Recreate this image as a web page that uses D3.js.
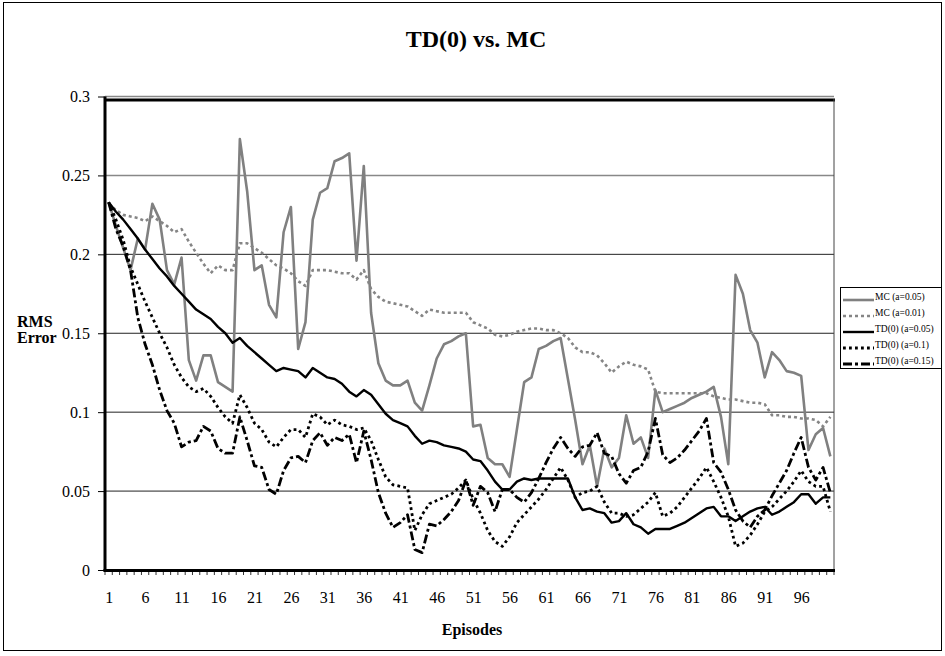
<!DOCTYPE html>
<html>
<head>
<meta charset="utf-8">
<script src="https://cdn.jsdelivr.net/npm/d3@7"></script>
<style>
html,body{margin:0;padding:0;background:#fff;}
svg{display:block;}
text{font-family:"Liberation Serif","Times New Roman",serif;fill:#000;}
</style>
</head>
<body>
<svg id="chart" width="945" height="656"></svg>
<script>
// ---------- data ----------
const episodes = d3.range(1, 101);

const mc005 = [
0.233,0.218,0.204,0.190,0.210,0.203,0.232,0.222,0.190,0.181,
0.198,0.133,0.120,0.136,0.136,0.119,0.116,0.113,0.273,0.240,
0.190,0.193,0.168,0.160,0.214,0.230,0.140,0.157,0.222,0.239,
0.242,0.259,0.261,0.264,0.196,0.256,0.163,0.131,0.120,0.117,
0.117,0.120,0.106,0.101,0.117,0.134,0.143,0.145,0.148,0.150,
0.091,0.092,0.071,0.067,0.067,0.059,0.089,0.119,0.122,0.140,
0.142,0.145,0.147,0.121,0.095,0.067,0.079,0.053,0.077,0.065,
0.071,0.098,0.080,0.084,0.071,0.114,0.100,0.102,0.104,0.106,
0.109,0.111,0.113,0.116,0.097,0.067,0.187,0.175,0.152,0.144,
0.122,0.138,0.133,0.126,0.125,0.123,0.076,0.086,0.090,0.072];

const mc001 = [
0.232,0.228,0.225,0.224,0.223,0.221,0.224,0.221,0.218,0.214,
0.216,0.208,0.201,0.194,0.188,0.193,0.190,0.190,0.207,0.207,
0.204,0.201,0.197,0.193,0.191,0.188,0.183,0.180,0.190,0.190,
0.190,0.189,0.188,0.188,0.184,0.190,0.178,0.173,0.170,0.169,
0.168,0.167,0.164,0.161,0.165,0.164,0.163,0.163,0.163,0.163,
0.157,0.155,0.153,0.149,0.148,0.149,0.151,0.152,0.153,0.153,
0.152,0.152,0.150,0.147,0.141,0.138,0.138,0.136,0.131,0.125,
0.129,0.132,0.130,0.129,0.127,0.113,0.112,0.112,0.112,0.112,
0.112,0.112,0.112,0.110,0.109,0.108,0.108,0.107,0.106,0.106,
0.105,0.098,0.098,0.097,0.097,0.096,0.096,0.095,0.091,0.097];

const td005 = [
0.233,0.227,0.222,0.216,0.210,0.203,0.197,0.191,0.186,0.180,
0.175,0.170,0.165,0.162,0.159,0.154,0.150,0.144,0.147,0.142,
0.138,0.134,0.130,0.126,0.128,0.127,0.126,0.122,0.128,0.125,
0.122,0.121,0.118,0.113,0.110,0.114,0.111,0.105,0.099,0.095,
0.093,0.091,0.085,0.080,0.082,0.081,0.079,0.078,0.077,0.075,
0.070,0.069,0.063,0.056,0.051,0.051,0.056,0.058,0.057,0.058,
0.058,0.058,0.058,0.058,0.046,0.038,0.039,0.037,0.036,0.030,
0.031,0.036,0.029,0.027,0.023,0.026,0.026,0.026,0.028,0.030,
0.033,0.036,0.039,0.040,0.034,0.034,0.031,0.034,0.037,0.039,
0.040,0.035,0.037,0.040,0.043,0.048,0.048,0.042,0.046,0.046];

const td01 = [
0.233,0.222,0.209,0.192,0.181,0.170,0.160,0.150,0.141,0.130,
0.122,0.116,0.113,0.115,0.110,0.103,0.097,0.093,0.111,0.103,
0.093,0.089,0.081,0.078,0.084,0.089,0.089,0.084,0.099,0.097,
0.092,0.095,0.092,0.091,0.089,0.090,0.082,0.070,0.059,0.054,
0.053,0.052,0.025,0.035,0.042,0.044,0.046,0.048,0.052,0.057,
0.045,0.036,0.025,0.018,0.015,0.021,0.030,0.035,0.040,0.045,
0.051,0.058,0.065,0.057,0.046,0.049,0.050,0.053,0.043,0.036,
0.036,0.034,0.035,0.039,0.043,0.049,0.034,0.036,0.040,0.046,
0.052,0.058,0.065,0.056,0.046,0.034,0.015,0.017,0.022,0.029,
0.037,0.040,0.045,0.050,0.056,0.063,0.056,0.053,0.053,0.037];

const td015 = [
0.233,0.216,0.205,0.190,0.160,0.143,0.130,0.114,0.101,0.093,
0.078,0.081,0.082,0.091,0.088,0.077,0.074,0.074,0.097,0.082,
0.066,0.065,0.051,0.048,0.063,0.071,0.072,0.068,0.082,0.087,
0.079,0.084,0.082,0.086,0.068,0.088,0.070,0.049,0.036,0.027,
0.030,0.035,0.013,0.011,0.029,0.028,0.032,0.037,0.044,0.057,
0.041,0.053,0.049,0.037,0.051,0.051,0.046,0.043,0.049,0.058,
0.068,0.077,0.084,0.077,0.072,0.078,0.079,0.087,0.074,0.072,
0.061,0.055,0.063,0.065,0.075,0.096,0.073,0.068,0.071,0.076,
0.082,0.088,0.096,0.068,0.062,0.051,0.038,0.031,0.027,0.034,
0.038,0.047,0.055,0.063,0.074,0.084,0.065,0.057,0.065,0.049];

const seriesNames = ["MC (a=0.05)", "MC (a=0.01)", "TD(0) (a=0.05)", "TD(0) (a=0.1)", "TD(0) (a=0.15)"];
const seriesValues = [mc005, mc001, td005, td01, td015];
const yTickValues = [0, 0.05, 0.1, 0.15, 0.2, 0.25, 0.3];
const yTickLabels = ["0", "0.05", "0.1", "0.15", "0.2", "0.25", "0.3"];
const xTickLabels = [1, 6, 11, 16, 21, 26, 31, 36, 41, 46, 51, 56, 61, 66, 71, 76, 81, 86, 91, 96];
const titleText = "TD(0) vs. MC";
const xTitle = "Episodes";
const yTitle = ["RMS", "Error"];

// ---------- styles ----------
const styles = [
  {stroke: "#808080", width: 2.6, dash: null},
  {stroke: "#858585", width: 2.6, dash: "3,3"},
  {stroke: "#000", width: 2.4, dash: null},
  {stroke: "#000", width: 2.8, dash: "2.8,3.2"},
  {stroke: "#000", width: 2.8, dash: "9,3,3,3"}
];

const svg = d3.select("#chart");

// outer border
svg.append("rect").attr("x", 3.5).attr("y", 2.5).attr("width", 938).attr("height", 648)
  .attr("fill", "#fff").attr("stroke", "#000").attr("stroke-width", 1);

const pLeft = 105, pRight = 834, pTop = 96.5, pBottom = 570;
const x = d3.scalePoint().domain(episodes).range([pLeft, pRight]).padding(0.5);
const y = d3.scaleLinear().domain([0, 0.3]).range([pBottom, pTop]);

// gridlines
svg.append("g").selectAll("line").data(yTickValues.filter(v => v > 0)).join("line")
  .attr("x1", pLeft).attr("x2", pRight)
  .attr("y1", d => y(d)).attr("y2", d => y(d))
  .attr("stroke", d => d >= 0.25 ? "#888" : "#222").attr("stroke-width", d => d >= 0.25 ? 1.5 : 1);

// plot frame
svg.append("line").attr("x1", pLeft).attr("x2", pRight + 1).attr("y1", 100).attr("y2", 100)
  .attr("stroke", "#000").attr("stroke-width", 3);
svg.append("line").attr("x1", pRight).attr("x2", pRight).attr("y1", 99).attr("y2", pBottom)
  .attr("stroke", "#444").attr("stroke-width", 1);

// y axis
const yAxis = d3.axisLeft(y).tickValues(yTickValues)
  .tickFormat((d, i) => yTickLabels[i]).tickSize(7).tickPadding(8);
const gy = svg.append("g").attr("transform", `translate(${pLeft},0)`).call(yAxis);
gy.select(".domain").remove();
gy.selectAll(".tick line").attr("stroke", "#000").attr("stroke-width", 1);
gy.selectAll(".tick text").attr("font-size", 16).attr("font-family", "Liberation Serif, serif")
  .attr("fill", "#000").attr("dy", "0.32em");

// x axis labels
const xAxis = d3.axisBottom(x).tickValues(xTickLabels).tickSize(0).tickPadding(22);
const gx = svg.append("g").attr("transform", `translate(0,${pBottom})`).call(xAxis);
gx.select(".domain").remove();
gx.selectAll(".tick text").attr("font-size", 16).attr("font-family", "Liberation Serif, serif").attr("fill", "#000");

// x minor ticks at category boundaries
const step = x.step();
const bounds = episodes.map(e => x(e) - step / 2).concat([x(100) + step / 2]);
svg.append("g").selectAll("line").data(bounds).join("line")
  .attr("x1", d => d).attr("x2", d => d).attr("y1", pBottom).attr("y2", pBottom + 5)
  .attr("stroke", "#333").attr("stroke-width", 1);

// series
const line = d3.line().x((d, i) => x(episodes[i])).y(d => y(d));
const gs = svg.append("g").attr("fill", "none");
seriesValues.forEach((vals, k) => {
  const st = styles[k];
  gs.append("path").attr("d", line(vals))
    .attr("stroke", st.stroke).attr("stroke-width", st.width)
    .attr("stroke-dasharray", st.dash)
    .attr("stroke-linejoin", "round");
});

// axis lines (thick)
svg.append("line").attr("x1", pLeft).attr("x2", pLeft).attr("y1", pTop).attr("y2", pBottom + 1.5)
  .attr("stroke", "#000").attr("stroke-width", 3);
svg.append("line").attr("x1", pLeft - 1.5).attr("x2", pRight + 1).attr("y1", pBottom + 0.5).attr("y2", pBottom + 0.5)
  .attr("stroke", "#000").attr("stroke-width", 3);

// titles
svg.append("text").attr("x", 476).attr("y", 47).attr("text-anchor", "middle")
  .attr("font-size", 24).attr("font-weight", "bold").text(titleText);
svg.append("text").attr("x", 472).attr("y", 635).attr("text-anchor", "middle")
  .attr("font-size", 16).attr("font-weight", "bold").text(xTitle);
yTitle.forEach((t, i) => {
  svg.append("text").attr("x", 17).attr("y", 327 + i * 16)
    .attr("font-size", 16).attr("font-weight", "bold").text(t);
});

// legend
const lg = svg.append("g");
lg.append("rect").attr("x", 840.5).attr("y", 287.5).attr("width", 101).attr("height", 81)
  .attr("fill", "#fff").attr("stroke", "#000").attr("stroke-width", 1);
seriesNames.forEach((name, k) => {
  const st = styles[k];
  const yy = 297 + k * 16;
  lg.append("line").attr("x1", 843).attr("x2", 874).attr("y1", yy + 3).attr("y2", yy + 3)
    .attr("stroke", st.stroke).attr("stroke-width", st.width).attr("stroke-dasharray", st.dash);
  lg.append("text").attr("x", 875).attr("y", yy).attr("dy", "0.35em")
    .attr("font-size", 9.5).text(name);
});
</script>
</body>
</html>
